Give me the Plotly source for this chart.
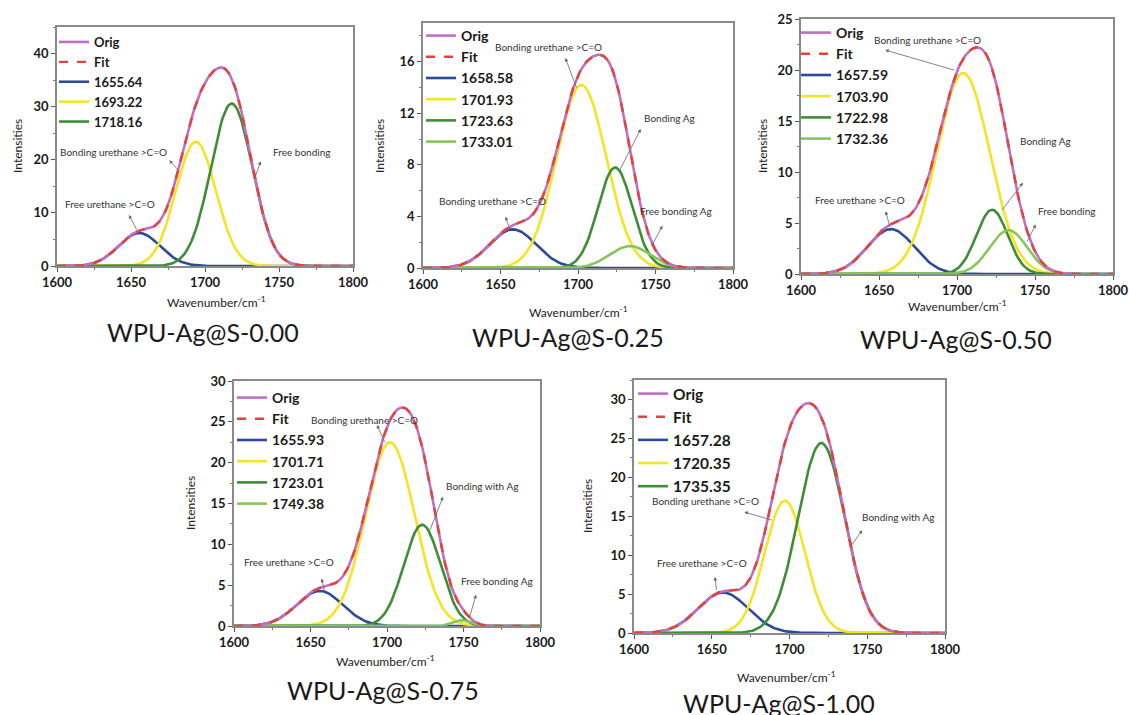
import numpy as np
import plotly.graph_objects as go

W, H = 1129, 715
FONT = "Lato"

# wavenumber grid (cm^-1) used to draw fitted Gaussian components
wavenumber = np.arange(1600, 1800.5, 1.0)

panel_titles = ["WPU-Ag@S-0.00", "WPU-Ag@S-0.25", "WPU-Ag@S-0.50",
                "WPU-Ag@S-0.75", "WPU-Ag@S-1.00"]

# --- Peak parameters (centre, height, sigma) ---
p1_labels = ["1655.64", "1693.22", "1718.16"]
p1_centers = [1655.6, 1693.8, 1718.0]
p1_heights = [6.2, 23.4, 30.6]
p1_sigmas = [14.0, 13.5, 14.0]

p2_labels = ["1658.58", "1701.93", "1723.63", "1733.01"]
p2_centers = [1658.0, 1702.2, 1724.0, 1733.5]
p2_heights = [3.0, 14.2, 7.8, 1.7]
p2_sigmas = [15.0, 16.0, 11.0, 13.0]

p3_labels = ["1657.59", "1703.90", "1722.98", "1732.36"]
p3_centers = [1657.6, 1704.0, 1722.5, 1733.0]
p3_heights = [4.4, 19.7, 6.3, 4.3]
p3_sigmas = [15.0, 17.0, 10.0, 12.0]

p4_labels = ["1655.93", "1701.71", "1723.01", "1749.38"]
p4_centers = [1656.0, 1702.0, 1723.0, 1749.0]
p4_heights = [4.3, 22.5, 12.4, 0.7]
p4_sigmas = [15.0, 16.0, 12.0, 6.0]

p5_labels = ["1657.28", "1720.35", "1735.35"]
p5_centers = [1657.3, 1697.0, 1720.5]
p5_heights = [5.2, 17.0, 24.4]
p5_sigmas = [16.0, 13.0, 15.0]

y_ranges = [[0, 45], [0, 19], [0, 25], [0, 30], [0, 32.5]]
y_dticks = [10, 4, 5, 5, 5]

# --- styles ---
C_ORIG = "#c06fc8"
C_FIT = "#e8403a"
C_BLUE = "#2c4a98"
C_YEL = "#f4e424"
C_DKG = "#3e8e36"
C_LTG = "#88c65a"
panel_colors = [
    [C_BLUE, C_YEL, C_DKG],
    [C_BLUE, C_YEL, C_DKG, C_LTG],
    [C_BLUE, C_YEL, C_DKG, C_LTG],
    [C_BLUE, C_YEL, C_DKG, C_LTG],
    [C_BLUE, C_YEL, C_DKG],
]

# pixel boxes of plot areas: (left, right, top, bottom)
boxes = [
    (57, 353, 27, 266),
    (423, 733, 23, 268),
    (801, 1113, 19, 274),
    (234, 540, 381, 626),
    (634, 945, 380, 633),
]
legend_pos = [(54, 27), (421, 20), (796, 17), (232, 382), (633, 377)]
legend_fs = [13, 14, 14, 14, 15.5]
title_pos = [(203, 332), (568, 337), (956, 339), (383, 690), (779, 703)]
xtitle_pos = [(216, 302), (578, 312), (957, 306), (385, 661), (786, 677)]
ytitle_pos = [(17, 146), (379, 146), (762, 146), (190, 503), (587, 506)]

# annotations per panel: (text, text_x, text_y, head_x, head_y, tail_x, tail_y) in data units
notes = [
    [("Bonding urethane >C=O", 1638, 21.5, 1675, 20.2, 1682, 18.0),
     ("Free urethane >C=O", 1636, 11.7, 1648, 9.9, 1654, 6.8),
     ("Free bonding", 1765, 21.5, 1738, 20.0, 1734, 16.8)],
    [("Bonding urethane >C=O", 1681, 17.1, 1691.5, 16.4, 1699, 14.0),
     ("Bonding Ag", 1759, 11.6, 1741, 10.9, 1727, 7.6),
     ("Bonding urethane >C=O", 1645, 5.2, 1653, 4.1, 1656, 2.95),
     ("Free bonding Ag", 1763, 4.4, 1755, 3.4, 1747.5, 1.7)],
    [("Bonding urethane >C=O", 1681, 22.9, 1653, 22.0, 1698, 20.0),
     ("Free urethane >C=O", 1638, 7.3, 1654, 6.3, 1657, 4.6),
     ("Bonding Ag", 1757, 13.0, 1743, 9.1, 1729, 6.3),
     ("Free bonding", 1770, 6.2, 1751, 5.0, 1745, 3.2)],
    [("Bonding urethane >C=O", 1685, 25.2, 1693, 24.8, 1698.5, 22.5),
     ("Bonding with Ag", 1762, 17.1, 1737, 16.0, 1728, 11.7),
     ("Free urethane >C=O", 1636, 7.8, 1657, 6.0, 1659, 4.4),
     ("Free bonding Ag", 1772, 5.5, 1758.5, 4.0, 1754, 1.1)],
    [("Bonding urethane >C=O", 1646, 17.0, 1670, 15.6, 1688.5, 14.5),
     ("Bonding with Ag", 1769.5, 14.9, 1747.5, 13.4, 1740, 11.3),
     ("Free urethane >C=O", 1643.5, 9.0, 1652, 7.4, 1653, 5.5)],
]

all_labels = [p1_labels, p2_labels, p3_labels, p4_labels, p5_labels]
all_centers = [p1_centers, p2_centers, p3_centers, p4_centers, p5_centers]
all_heights = [p1_heights, p2_heights, p3_heights, p4_heights, p5_heights]
all_sigmas = [p1_sigmas, p2_sigmas, p3_sigmas, p4_sigmas, p5_sigmas]


def gauss(c, h, s):
    return h * np.exp(-((wavenumber - c) ** 2) / (2 * s ** 2))


fig = go.Figure()
annotations = []
layout = dict(
    width=W, height=H,
    margin=dict(l=0, r=0, t=0, b=0, pad=0, autoexpand=False),
    paper_bgcolor="white", plot_bgcolor="white",
    font=dict(family=FONT, color="#222"),
)


def px(xp):
    return xp / W


def py(yp):
    return 1 - yp / H


for i in range(5):
    n = i + 1
    xa = "x" if n == 1 else f"x{n}"
    ya = "y" if n == 1 else f"y{n}"
    lg = "legend" if n == 1 else f"legend{n}"
    comps = [gauss(c, h, s) for c, h, s in
             zip(all_centers[i], all_heights[i], all_sigmas[i])]
    total = np.sum(comps, axis=0)
    for k, (lab, comp) in enumerate(zip(all_labels[i], comps)):
        fig.add_trace(go.Scatter(
            x=wavenumber, y=comp, mode="lines", name=lab,
            line=dict(color=panel_colors[i][k], width=2.6),
            xaxis=xa, yaxis=ya, legend=lg, legendrank=10 + k))
    fig.add_trace(go.Scatter(
        x=wavenumber, y=total, mode="lines", name="Orig",
        line=dict(color=C_ORIG, width=2.6),
        xaxis=xa, yaxis=ya, legend=lg, legendrank=1))
    fig.add_trace(go.Scatter(
        x=wavenumber, y=total, mode="lines", name="Fit",
        line=dict(color=C_FIT, width=2.4, dash="dash"),
        xaxis=xa, yaxis=ya, legend=lg, legendrank=2))

    l, r, t, b = boxes[i]
    axis_common = dict(
        showline=True, linecolor="#8a8a8a", linewidth=1.5, mirror=True,
        showgrid=False, zeroline=False, ticks="outside", ticklen=4,
        tickcolor="#555", tickwidth=1, automargin=False,
        tickfont=dict(family=FONT, size=13, color="#1a1a1a", weight="bold"),
    )
    layout["xaxis" if n == 1 else f"xaxis{n}"] = dict(
        axis_common, domain=[px(l), px(r)], anchor=ya, range=[1600, 1800],
        tickvals=[1600, 1650, 1700, 1750, 1800],
        minor=dict(dtick=25, ticks="outside", ticklen=2, tickcolor="#777"),
    )
    layout["yaxis" if n == 1 else f"yaxis{n}"] = dict(
        axis_common, domain=[py(b), py(t)], anchor=xa, range=y_ranges[i],
        dtick=y_dticks[i], tick0=0,
        minor=dict(dtick=y_dticks[i] / 2, ticks="outside", ticklen=2,
                   tickcolor="#777"),
    )
    lx, ly = legend_pos[i]
    layout[lg] = dict(
        x=px(lx), y=py(ly), xanchor="left", yanchor="top",
        bgcolor="rgba(0,0,0,0)", borderwidth=0, itemwidth=30,
        font=dict(family=FONT, size=legend_fs[i], color="#1a1a1a",
                  weight="bold"),
        tracegroupgap=0,
    )
    tx, ty = title_pos[i]
    annotations.append(dict(
        text=panel_titles[i], x=px(tx), y=py(ty), xref="paper", yref="paper",
        showarrow=False, font=dict(family=FONT, size=25, color="#1a1a1a"),
        xanchor="center", yanchor="middle"))
    ax_, ay_ = xtitle_pos[i]
    annotations.append(dict(
        text="Wavenumber/cm<sup>-1</sup>", x=px(ax_), y=py(ay_),
        xref="paper", yref="paper", showarrow=False,
        font=dict(family=FONT, size=12, color="#222"),
        xanchor="center", yanchor="middle"))
    bx, by = ytitle_pos[i]
    annotations.append(dict(
        text="Intensities", x=px(bx), y=py(by), xref="paper", yref="paper",
        showarrow=False, textangle=-90,
        font=dict(family=FONT, size=12, color="#222"),
        xanchor="center", yanchor="middle"))
    for (txt, tx_, ty_, hx, hy, sx, sy) in notes[i]:
        annotations.append(dict(
            text=txt, x=tx_, y=ty_, xref=xa, yref=ya, showarrow=False,
            font=dict(family=FONT, size=10, color="#333"),
            xanchor="center", yanchor="middle"))
        annotations.append(dict(
            text="", x=sx, y=sy, ax=hx, ay=hy, xref=xa, yref=ya,
            axref=xa, ayref=ya, showarrow=True, arrowside="start",
            startarrowhead=2, startarrowsize=0.9, arrowwidth=0.8,
            arrowcolor="#666"))

layout["annotations"] = annotations
layout["showlegend"] = True
fig.update_layout(**layout)
fig.write_html("out.html",
               config={"displayModeBar": False},
               post_script="document.body.style.margin='0';"
                           "document.body.style.overflow='hidden';")
